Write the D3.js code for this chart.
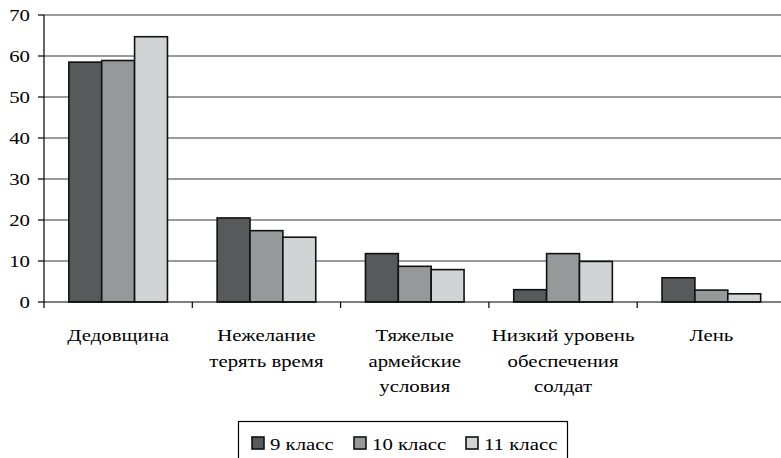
<!DOCTYPE html>
<html>
<head>
<meta charset="utf-8">
<script src="https://cdn.jsdelivr.net/npm/d3@7"></script>
<style>
  body { margin: 0; background: #fff; }
</style>
</head>
<body>
<div id="chart"></div>
<script>
// data
var categories = [
  ['Дедовщина'],
  ['Нежелание', 'терять время'],
  ['Тяжелые', 'армейские', 'условия'],
  ['Низкий уровень', 'обеспечения', 'солдат'],
  ['Лень']
];
var seriesNames = ['9 класс', '10 класс', '11 класс'];
var grade9 = [58.5, 20.5, 11.8, 3, 5.9];
var grade10 = [58.9, 17.4, 8.7, 11.8, 2.9];
var grade11 = [64.7, 15.8, 7.9, 9.9, 2];
var yTicks = [0, 10, 20, 30, 40, 50, 60, 70];

var series = [grade9, grade10, grade11];
var colors = ['#58595b', '#97989a', '#d2d3d5'];

var width = 781, height = 458;
var plotLeft = 44, plotTop = 15, plotBottom = 302;
var band = 148.3;
var sx = 1.3; // the original text is stretched horizontally
var font = "'Liberation Serif'";

var svg = d3.select('#chart')
  .append('svg')
  .attr('width', width)
  .attr('height', height);

function label(g, tx, ty, anchor, txt) {
  return g.append('text')
    .attr('transform', 'translate(' + tx + ',' + ty + ') scale(' + sx + ',1)')
    .attr('text-anchor', anchor)
    .style('font-family', font)
    .style('font-size', '16px')
    .text(txt);
}

var x = d3.scaleBand()
  .domain(d3.range(categories.length))
  .range([plotLeft, plotLeft + band * categories.length])
  .paddingInner(0.335)
  .paddingOuter(0.1675);

var xs = d3.scaleBand()
  .domain(d3.range(series.length))
  .range([0, x.bandwidth()]);

var y = d3.scaleLinear()
  .domain([0, 70])
  .range([plotBottom, plotTop]);

// grid lines
svg.append('g')
  .selectAll('line')
  .data(yTicks.slice(1))
  .enter()
  .append('line')
  .attr('x1', plotLeft)
  .attr('x2', width)
  .attr('y1', function(d) { return y(d); })
  .attr('y2', function(d) { return y(d); })
  .attr('stroke', '#7a7a7a')
  .attr('stroke-width', 1.5);

// bars
categories.forEach(function(c, i) {
  series.forEach(function(s, j) {
    svg.append('rect')
      .attr('x', x(i) + xs(j))
      .attr('y', y(s[i]))
      .attr('width', xs.bandwidth())
      .attr('height', y(0) - y(s[i]))
      .attr('fill', colors[j])
      .attr('stroke', '#111')
      .attr('stroke-width', 1.6);
  });
});

// y axis
var yAxis = svg.append('g');
yAxis.append('line')
  .attr('x1', plotLeft).attr('x2', plotLeft)
  .attr('y1', plotTop).attr('y2', plotBottom)
  .attr('stroke', '#000').attr('stroke-width', 1.2);
yTicks.forEach(function(t) {
  yAxis.append('line')
    .attr('x1', plotLeft - 6).attr('x2', plotLeft)
    .attr('y1', y(t)).attr('y2', y(t))
    .attr('stroke', '#000').attr('stroke-width', 1.2);
  label(yAxis, 30, y(t) + 5.5, 'end', t);
});

// x axis
var xAxis = svg.append('g');
xAxis.append('line')
  .attr('x1', plotLeft).attr('x2', width)
  .attr('y1', plotBottom).attr('y2', plotBottom)
  .attr('stroke', '#000').attr('stroke-width', 1.2);
d3.range(categories.length).forEach(function(i) {
  var xt = x(i) - x.step() * x.paddingOuter();
  xAxis.append('line')
    .attr('x1', xt).attr('x2', xt)
    .attr('y1', plotBottom).attr('y2', plotBottom + 6)
    .attr('stroke', '#000').attr('stroke-width', 1.2);
});
categories.forEach(function(lines, i) {
  var cx = x(i) + x.bandwidth() / 2;
  lines.forEach(function(l, k) {
    label(xAxis, cx, 341 + k * 25.5, 'middle', l);
  });
});

// legend
var legend = svg.append('g');
legend.append('rect')
  .attr('x', 238.5).attr('y', 421.5)
  .attr('width', 329).attr('height', 50)
  .attr('fill', 'none')
  .attr('stroke', '#000').attr('stroke-width', 1.2);
var legendX = [252, 354, 466];
seriesNames.forEach(function(n, j) {
  legend.append('rect')
    .attr('x', legendX[j]).attr('y', 437)
    .attr('width', 12).attr('height', 12)
    .attr('fill', colors[j])
    .attr('stroke', '#111').attr('stroke-width', 1.6);
  label(legend, legendX[j] + 18, 450, 'start', n);
});
</script>
</body>
</html>
